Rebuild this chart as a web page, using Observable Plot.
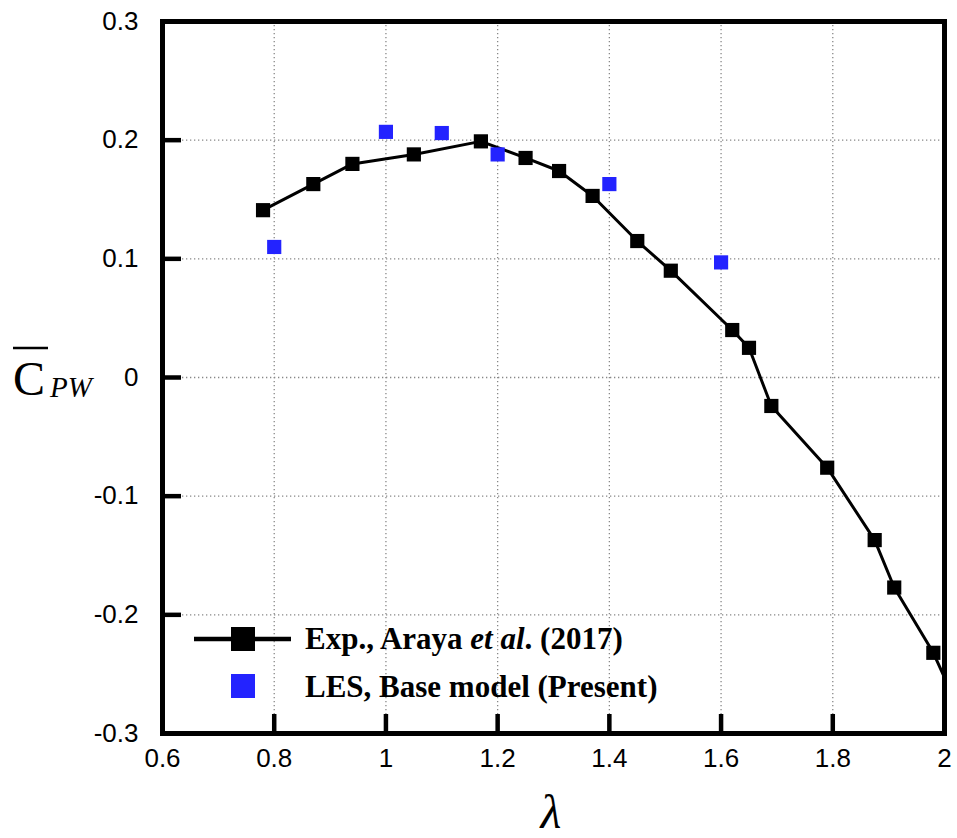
<!DOCTYPE html>
<html>
<head>
<meta charset="utf-8">
<script src="https://cdn.jsdelivr.net/npm/d3@7"></script>
<script src="https://cdn.jsdelivr.net/npm/@observablehq/plot@0.6"></script>
<style>
  html, body { margin: 0; padding: 0; background: #fff; }
  #chart { width: 957px; height: 838px; }
</style>
</head>
<body>
<div id="chart"></div>
<script>
// Experimental power coefficient vs tip-speed ratio (Araya et al., 2017)
const expLambda = [0.78, 0.87, 0.94, 1.05, 1.17, 1.25, 1.31, 1.37, 1.45, 1.51, 1.62, 1.65, 1.69, 1.79, 1.875, 1.91, 1.98, 2.05];
const expCpw    = [0.141, 0.163, 0.180, 0.188, 0.199, 0.185, 0.174, 0.153, 0.115, 0.090, 0.040, 0.025, -0.024, -0.076, -0.137, -0.177, -0.232, -0.305];

// LES results, base model
const lesLambda = [0.8, 1.0, 1.1, 1.2, 1.4, 1.6];
const lesCpw    = [0.110, 0.207, 0.206, 0.188, 0.163, 0.097];

// Axis ticks and gridlines
const xTicks = [0.6, 0.8, 1, 1.2, 1.4, 1.6, 1.8, 2];
const yTicks = [-0.3, -0.2, -0.1, 0, 0.1, 0.2, 0.3];
const xGrid = [0.8, 1, 1.2, 1.4, 1.6, 1.8];
const yGrid = [-0.2, -0.1, 0, 0.1, 0.2];

const expData = expLambda.map((x, i) => ({x, y: expCpw[i]}));
const lesData = lesLambda.map((x, i) => ({x, y: lesCpw[i]}));

const blue = "#2323ff";
const W = 957, H = 838;
const mL = 162, mR = 13, mT = 21, mB = 105;
const innerW = W - mL - mR, innerH = H - mT - mB;
const tickLen = 19;

const chart = Plot.plot({
  width: W,
  height: H,
  marginLeft: mL,
  marginRight: mR,
  marginTop: mT,
  marginBottom: mB,
  style: {fontFamily: "'Liberation Sans', Arial, sans-serif", fontSize: "26px", background: "#fff", color: "#000"},
  x: {domain: [0.6, 2]},
  y: {domain: [-0.3, 0.3]},
  marks: [
    Plot.ruleX(xGrid, {x: d => d, stroke: "#888", strokeWidth: 1.3, strokeDasharray: "1.3,2.7"}),
    Plot.ruleY(yGrid, {y: d => d, stroke: "#888", strokeWidth: 1.3, strokeDasharray: "1.3,2.7"}),
    // inward major ticks on the bottom and left edges
    Plot.tickX(xTicks, {x: d => d, insetTop: innerH - tickLen, stroke: "#000", strokeWidth: 4.5}),
    Plot.tickY(yTicks, {y: d => d, insetRight: innerW - tickLen, stroke: "#000", strokeWidth: 4.5}),
    // tick labels
    Plot.axisX(xTicks, {tickSize: 0, tickPadding: 15, tickFormat: d => String(d), fill: "#000", fontSize: 26, label: null}),
    Plot.axisY(yTicks, {tickSize: 0, tickPadding: 24, tickFormat: d => String(d), fill: "#000", fontSize: 26, label: null}),
    Plot.line(expData, {x: "x", y: "y", stroke: "#000", strokeWidth: 3, clip: true}),
    Plot.dot(expData, {x: "x", y: "y", symbol: "square", r: 8, fill: "#000", stroke: "none", clip: true}),
    Plot.dot(lesData, {x: "x", y: "y", symbol: "square", r: 8, fill: blue, stroke: "none"}),
    Plot.frame({stroke: "#000", strokeWidth: 5})
  ]
});

document.getElementById("chart").appendChild(chart);

const svg = d3.select(chart);

// Legend
const serif = "'Liberation Serif', 'Times New Roman', serif";
const lg = svg.append("g").attr("text-anchor", "start");
lg.append("line").attr("x1", 194).attr("x2", 291).attr("y1", 639).attr("y2", 639)
  .attr("stroke", "#000").attr("stroke-width", 4.5);
lg.append("rect").attr("x", 231).attr("y", 627).attr("width", 24).attr("height", 24).attr("fill", "#000");
lg.append("rect").attr("x", 231).attr("y", 674).attr("width", 24).attr("height", 24).attr("fill", blue);

const t1 = lg.append("text").attr("x", 305).attr("y", 649).attr("text-anchor", "start")
  .attr("font-family", serif).attr("font-size", 31).attr("font-weight", "bold").attr("fill", "#000");
t1.append("tspan").text("Exp., Araya ");
t1.append("tspan").attr("font-style", "italic").text("et al");
t1.append("tspan").text(". (2017)");

lg.append("text").attr("x", 305).attr("y", 697).attr("text-anchor", "start")
  .attr("font-family", serif).attr("font-size", 31).attr("font-weight", "bold").attr("fill", "#000")
  .text("LES, Base model (Present)");

// y-axis title: C with overbar, subscript PW
const yl = svg.append("g").attr("text-anchor", "start");
yl.append("text").attr("x", 13).attr("y", 395).attr("text-anchor", "start")
  .attr("font-family", serif).attr("font-size", 48).attr("fill", "#000").text("C");
yl.append("line").attr("x1", 13).attr("x2", 48).attr("y1", 348).attr("y2", 348)
  .attr("stroke", "#000").attr("stroke-width", 2.5);
yl.append("text").attr("x", 50).attr("y", 397).attr("text-anchor", "start")
  .attr("font-family", serif).attr("font-size", 29).attr("font-style", "italic").attr("fill", "#000").text("PW");

// x-axis title: lambda
svg.append("text").attr("x", 551).attr("y", 828).attr("text-anchor", "middle")
  .attr("font-family", serif).attr("font-size", 48).attr("font-style", "italic").attr("fill", "#000").text("λ");
</script>
</body>
</html>
